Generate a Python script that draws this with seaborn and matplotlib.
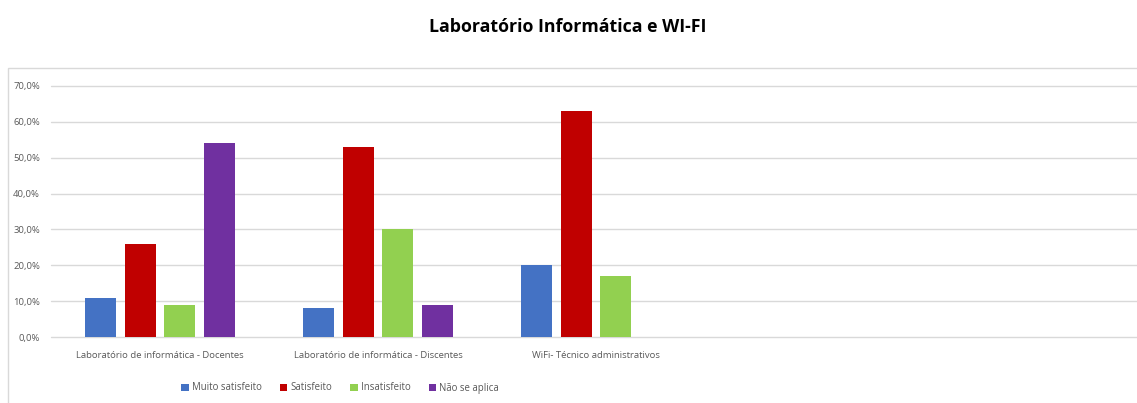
import matplotlib
matplotlib.use("Agg")
import matplotlib.pyplot as plt
from matplotlib.patches import Rectangle
from matplotlib.ticker import FuncFormatter, MultipleLocator
import seaborn as sns
import pandas as pd

categories = [
    "Laboratório de informática - Docentes",
    "Laboratório de informática - Discentes",
    "WiFi- Técnico administrativos",
]
responses = ["Muito satisfeito", "Satisfeito", "Insatisfeito", "Não se aplica"]
muito_satisfeito = [11, 8, 20]
satisfeito = [26, 53, 63]
insatisfeito = [9, 30, 17]
nao_se_aplica = [54, 9, 0]
colors = ["#4472C4", "#C00000", "#92D050", "#7030A0"]

series = [muito_satisfeito, satisfeito, insatisfeito, nao_se_aplica]
rows = []
for resp, vals in zip(responses, series):
    for cat, v in zip(categories, vals):
        rows.append({"categoria": cat, "resposta": resp, "valor": v})
df = pd.DataFrame(rows)

sns.set_theme(style="white")
plt.rcParams["font.family"] = ["Open Sans", "DejaVu Sans"]

W, H = 1137, 403
fig = plt.figure(figsize=(W / 100, H / 100), dpi=100)

# outer chart frame (left and top edges visible)
fig.patches.append(Rectangle((8 / W, -0.05), 1.1, (H - 68) / H + 0.05,
                             transform=fig.transFigure, fill=False,
                             edgecolor="#d9d9d9", linewidth=1.0))

ax_left, ax_right = 51 / W, 1141 / W
ax_bottom, ax_top = (H - 337) / H, (H - 86) / H
ax = fig.add_axes([ax_left, ax_bottom, ax_right - ax_left, ax_top - ax_bottom])

sns.barplot(data=df, x="categoria", y="valor", hue="resposta",
            hue_order=responses, order=categories, palette=colors,
            width=0.725, gap=0.21, dodge=True, ax=ax, legend=False,
            saturation=1, linewidth=0)

ax.set_xlim(-0.5, 4.5)
ax.set_ylim(0, 70)
ax.yaxis.set_major_locator(MultipleLocator(10))
ax.yaxis.set_major_formatter(FuncFormatter(lambda v, p: f"{v:.1f}%".replace(".", ",")))
ax.grid(axis="y", color="#d9d9d9", linewidth=1.0)
ax.set_axisbelow(True)
for gl in ax.yaxis.get_gridlines():
    gl.set_clip_on(False)
for s in ax.spines.values():
    s.set_visible(False)
ax.set_xlabel("")
ax.set_ylabel("")
ax.tick_params(axis="both", length=0, colors="#595959", labelsize=6.8)
ax.tick_params(axis="x", pad=10)
ax.tick_params(axis="y", pad=8)
for lab in ax.get_xticklabels() + ax.get_yticklabels():
    lab.set_color("#595959")

fig.text(568 / W, 1 - 27 / H, "Laboratório Informática e WI-FI", ha="center",
         va="center", fontsize=12.8, fontweight="bold", color="black")

handles = [Rectangle((0, 0), 1, 1, facecolor=c, edgecolor="none") for c in colors]
leg = fig.legend(handles, responses, loc="center", bbox_to_anchor=(340 / W, 1 - 388 / H),
                 ncol=4, frameon=False, fontsize=6.9, handlelength=0.8, handleheight=0.8,
                 handletextpad=0.3, columnspacing=1.9, labelcolor="#595959")

fig.savefig("out.png", dpi=100)
